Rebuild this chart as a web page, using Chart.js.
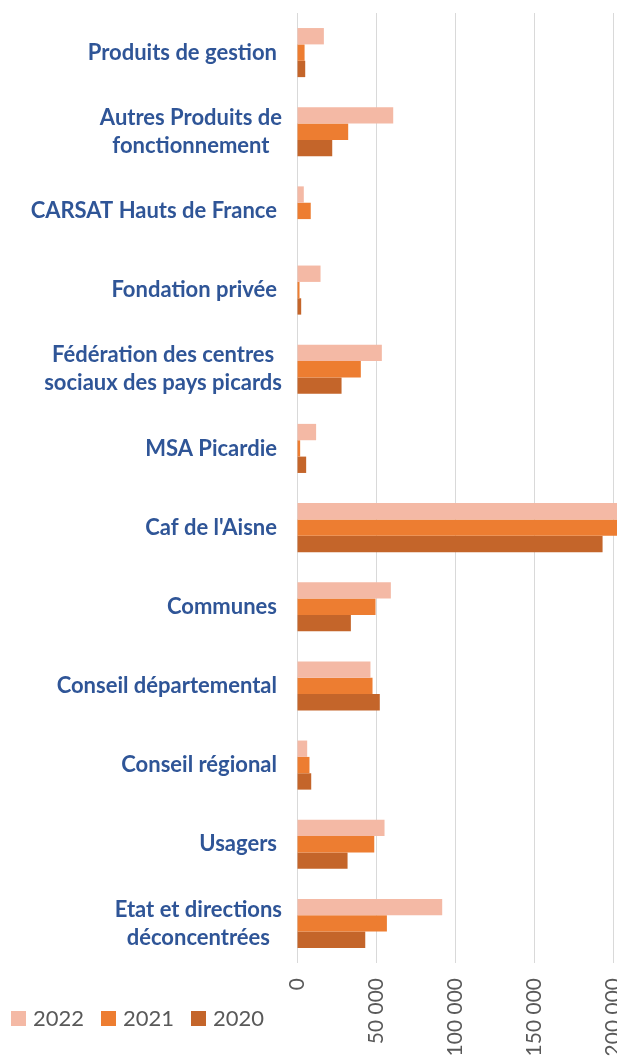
<!DOCTYPE html>
<html><head><meta charset="utf-8">
<script src="https://cdn.jsdelivr.net/npm/chart.js@4.4.0/dist/chart.umd.min.js"></script>
<style>
html,body{margin:0;padding:0;background:#fff;overflow:hidden;}
#wrap{position:relative;width:617px;height:1060px;overflow:hidden;background:#fff;}
#wrap canvas{position:absolute;left:0;top:0;}
</style></head><body>
<div id="wrap"><canvas id="c" width="720" height="1100" style="width:720px;height:1100px"></canvas></div>
<script>
const categories = [
  "Produits de gestion",
  ["Autres Produits de", "fonctionnement"],
  "CARSAT Hauts de France",
  "Fondation privée",
  ["Fédération des centres", "sociaux des pays picards"],
  "MSA Picardie",
  "Caf de l'Aisne",
  "Communes",
  "Conseil départemental",
  "Conseil régional",
  "Usagers",
  ["Etat et directions", "déconcentrées"]
];
const seriesNames = ["2022", "2021", "2020"];
const values2022 = [17000, 60900, 4300, 14900, 53700, 12100, 215000, 59400, 46500, 6450, 55400, 91900];
const values2021 = [4800, 32400, 8700, 1600, 40400, 2000, 220000, 49700, 47800, 7900, 48900, 56900];
const values2020 = [5200, 22300, 0, 2650, 28200, 5800, 193400, 34100, 52400, 9000, 32000, 43200];
const xTickValues = [0, 50000, 100000, 150000, 200000, 250000];
const seriesColors = ["#F4B9A5", "#ED7D31", "#C4652A"];

function fmt(v) { return String(v).replace(/\B(?=(\d{3})+(?!\d))/g, ' '); }

const yLabelPlugin = {
  id: 'yLabels',
  afterDraw(chart) {
    const ctx = chart.ctx;
    const ys = chart.scales.y;
    ctx.save();
    ctx.font = 'bold 22px Lato';
    ctx.fillStyle = '#2F5597';
    ctx.textBaseline = 'middle';
    categories.forEach((lab, i) => {
      const y = ys.getPixelForTick(i);
      if (Array.isArray(lab)) {
        const w = Math.max(...lab.map(l => ctx.measureText(l).width));
        const cx = 282 - w / 2;
        ctx.textAlign = 'center';
        lab.forEach((l, j) => {
          ctx.fillText(l, cx, y + (j - (lab.length - 1) / 2) * 28);
        });
      } else {
        ctx.textAlign = 'right';
        ctx.fillText(lab, 277, y);
      }
    });
    ctx.restore();
  }
};

const legendPlugin = {
  id: 'customLegend',
  afterDraw(chart) {
    const ctx = chart.ctx;
    ctx.save();
    ctx.font = '22px Lato';
    ctx.textBaseline = 'middle';
    ctx.textAlign = 'left';
    const starts = [11, 101, 191];
    chart.data.datasets.forEach((ds, i) => {
      const x = starts[i];
      ctx.fillStyle = ds.backgroundColor;
      ctx.fillRect(x, 1011, 15, 15);
      ctx.fillStyle = '#595959';
      ctx.fillText(ds.label, x + 22, 1019);
    });
    ctx.restore();
  }
};

new Chart(document.getElementById('c'), {
  type: 'bar',
  data: {
    labels: categories,
    datasets: [
      { label: seriesNames[0], data: values2022, backgroundColor: seriesColors[0] },
      { label: seriesNames[1], data: values2021, backgroundColor: seriesColors[1] },
      { label: seriesNames[2], data: values2020, backgroundColor: seriesColors[2] }
    ]
  },
  options: {
    indexAxis: 'y',
    responsive: false,
    animation: false,
    devicePixelRatio: 1,
    layout: { padding: { left: 297, right: 28, top: 13, bottom: 17 } },
    datasets: { bar: { categoryPercentage: 0.62, barPercentage: 1.0 } },
    plugins: { legend: { display: false }, tooltip: { enabled: false } },
    scales: {
      y: { type: 'category', display: false },
      x: {
        min: 0, max: 250000,
        afterBuildTicks(scale) { scale.ticks = xTickValues.map(v => ({ value: v })); },
        afterFit(scale) { scale.height = 120; scale.paddingLeft = 0; scale.paddingRight = 0; },
        grid: { color: '#D9D9D9', lineWidth: 1, drawTicks: false },
        border: { display: false },
        ticks: {
          minRotation: 90, maxRotation: 90, autoSkip: false,
          padding: 15,
          color: '#595959',
          font: { family: 'Lato', size: 21 },
          callback: (v) => fmt(v)
        }
      }
    }
  },
  plugins: [yLabelPlugin, legendPlugin]
});
</script>
</body></html>
